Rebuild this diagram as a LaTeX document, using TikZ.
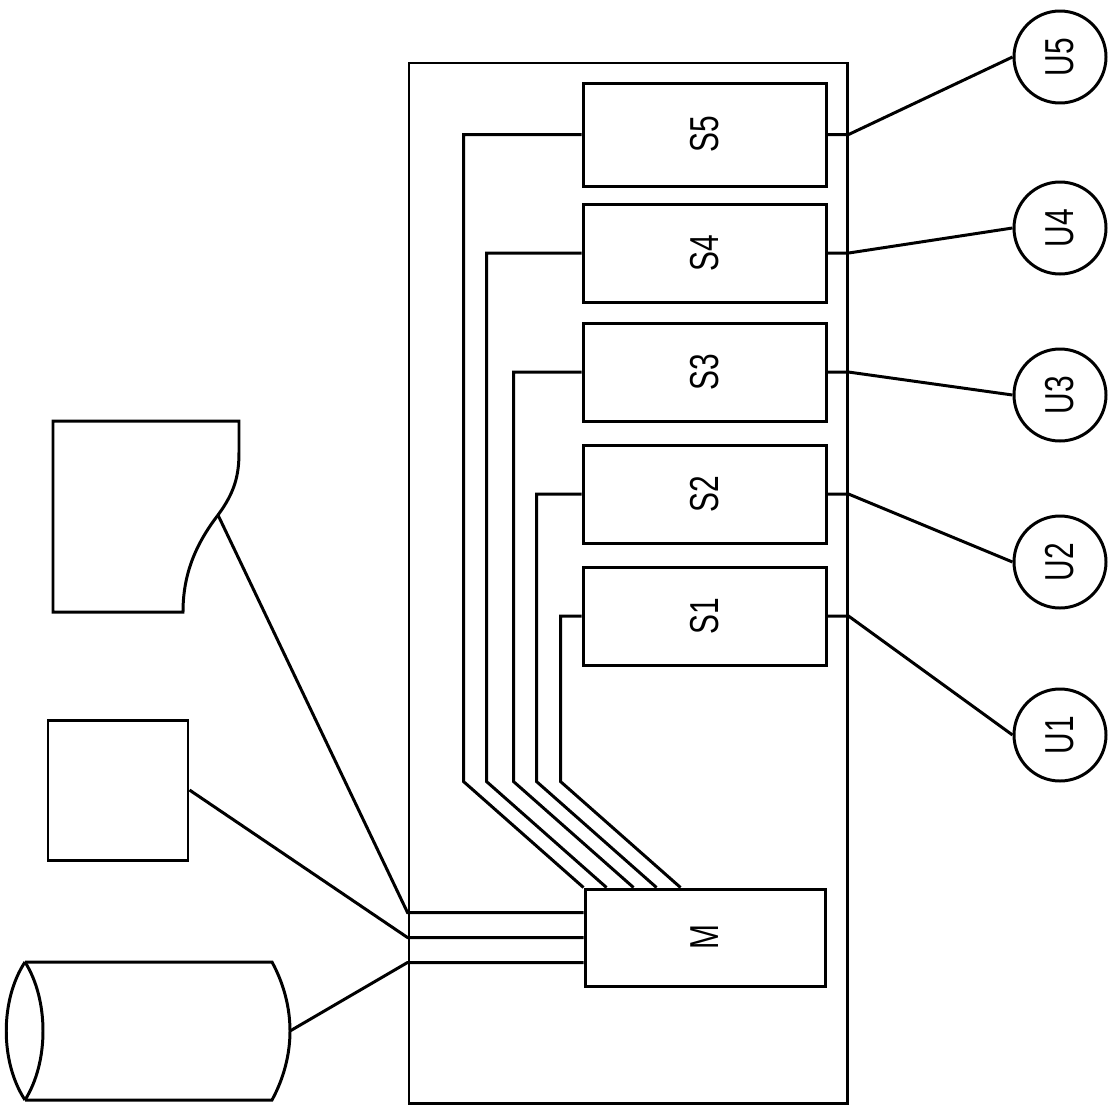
\documentclass[tikz,border=0pt]{standalone}
\usepackage{graphicx}
\usepackage{fontspec}
\setsansfont[FakeStretch=0.74]{Liberation Sans}
\usepackage{tikz}
\usetikzlibrary{positioning,fit,calc}

\begin{document}
\begin{tikzpicture}[
  x=0.1mm,y=-0.1mm,
  font=\sffamily\fontsize{11.5}{12}\selectfont,
  line cap=butt,line join=miter,
  node distance=2.1mm,
  wire/.style={line width=.85pt,draw=black},
  sbox/.style={wire,minimum width=24.3mm,minimum height=9.8mm,inner sep=0pt},
  mbox/.style={wire,minimum width=24mm,minimum height=9.7mm,inner sep=0pt},
  unit/.style={wire,circle,minimum size=9.2mm,inner sep=0pt},
  devbox/.style={wire,minimum width=14mm,minimum height=14mm,inner sep=0pt}
]
\useasboundingbox (0,0) rectangle (1107,1110);

% housing
\coordinate (fnw) at (409,63);
\coordinate (fse) at (847,1103);
\node[wire,fit=(fnw)(fse),inner sep=0pt] (frame) {};

% stations and master
\node[sbox] (S1) at (704.5,616) {\rotatebox{90}{S1}};
\node[sbox,above=of S1] (S2) {\rotatebox{90}{S2}};
\node[sbox,above=of S2] (S3) {\rotatebox{90}{S3}};
\node[sbox,above=1.8mm of S3] (S4) {\rotatebox{90}{S4}};
\node[sbox,above=1.5mm of S4,minimum height=10.3mm] (S5) {\rotatebox{90}{S5}};
\node[mbox] (M) at (705,937.5) {\rotatebox{90}{M}};

% outer units
\node[unit] (U5) at (1060,57) {\rotatebox{90}{U5}};
\node[unit] (U4) at (1060,228) {\rotatebox{90}{U4}};
\node[unit] (U3) at (1060,395) {\rotatebox{90}{U3}};
\node[unit] (U2) at (1060,562) {\rotatebox{90}{U2}};
\node[unit] (U1) at (1060,735) {\rotatebox{90}{U1}};

% peripherals
\draw[wire] (239,421) -- (53,421) -- (53,612) -- (183,612)
  .. controls (183,575) and (195,545) .. (218,515)
  .. controls (235,492) and (239,475) .. (239,452) -- cycle;
\coordinate (docpt) at (218,515);
\node[devbox] (disp) at (118,790) {};
\draw[wire] (25,962) -- (272,962)
  .. controls (284,984) and (290,1008) .. (290,1031)
  .. controls (290,1054) and (284,1078) .. (272,1100) -- (25,1100);
\draw[wire] (25,962) .. controls (0,1000) and (0,1062) .. (25,1100);
\draw[wire] (25,962) .. controls (49,1000) and (49,1062) .. (25,1100);
\coordinate (drum) at (290,1031);

% bus from stations to master
\foreach \i/\off in {5/0,4/23,3/50,2/73,1/97}
  \draw[wire] (S\i.west) -| ($(M.north west)+(\off-120,-106)$)
    -- ($(M.north west)+(\off,0)$);

% stations to units
\foreach \i in {1,...,5}
  \draw[wire] (S\i.east) -- (S\i.east -| frame.east) -- (U\i.west);

% master to peripherals
\draw[wire] ([yshift=2.5mm]M.west) -- ([yshift=2.5mm]M.west -| frame.west) -- (docpt);
\draw[wire] (M.west) -- (M.west -| frame.west) -- (disp.east);
\draw[wire] ([yshift=-2.5mm]M.west) -- ([yshift=-2.5mm]M.west -| frame.west) -- (drum);
\end{tikzpicture}
\end{document}
